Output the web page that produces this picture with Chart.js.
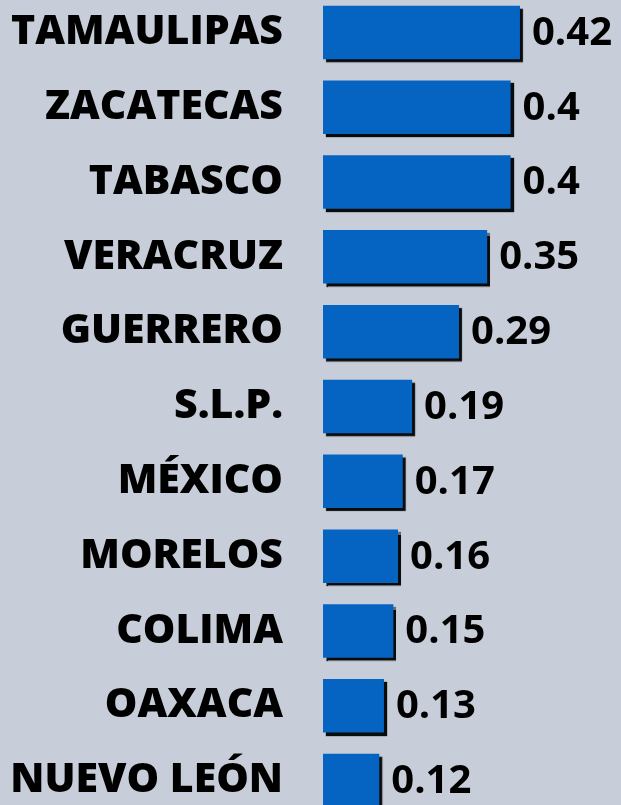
<!DOCTYPE html>
<html>
<head>
<meta charset="utf-8">
<script src="https://cdn.jsdelivr.net/npm/chart.js@4/dist/chart.umd.min.js"></script>
<style>
html,body{margin:0;padding:0;background:#C8CED9;}
#wrap{position:relative;width:621px;height:805px;overflow:hidden;background:#C8CED9;}
#c{position:absolute;left:0;top:-5px;}
</style>
</head>
<body>
<div id="wrap"><canvas id="c" width="621" height="828"></canvas></div>
<script>
const categories = ["TAMAULIPAS","ZACATECAS","TABASCO","VERACRUZ","GUERRERO","S.L.P.","MÉXICO","MORELOS","COLIMA","OAXACA","NUEVO LEÓN"];
const values = [0.42,0.4,0.4,0.35,0.29,0.19,0.17,0.16,0.15,0.13,0.12];

const barColor = "#0563C1";
const labelFont = {family:"'Open Sans', sans-serif", size:41, weight:"800"};
const valueFont = "bold 40px 'Open Sans', sans-serif";

const shadowPlugin = {
  id:"shadow",
  beforeDatasetsDraw(chart){
    const ctx = chart.ctx;
    ctx.save();
    ctx.shadowColor = "rgba(0,0,0,0.95)";
    ctx.shadowOffsetX = 3;
    ctx.shadowOffsetY = 3;
    ctx.shadowBlur = 1;
  },
  afterDatasetsDraw(chart){
    const ctx = chart.ctx;
    ctx.restore();
    ctx.save();
    ctx.font = valueFont;
    ctx.fillStyle = "#000";
    ctx.textAlign = "left";
    ctx.textBaseline = "middle";
    const meta = chart.getDatasetMeta(0);
    meta.data.forEach((el,i)=>{
      ctx.fillText(String(values[i]), el.x + 12, el.y + 1);
    });
    ctx.restore();
  }
};

new Chart(document.getElementById("c"), {
  type:"bar",
  data:{
    labels:categories,
    datasets:[{
      data:values,
      backgroundColor:barColor,
      borderWidth:0,
      barPercentage:0.715,
      categoryPercentage:1
    }]
  },
  options:{
    indexAxis:"y",
    responsive:false,
    animation:false,
    layout:{padding:{top:0,bottom:5,right:16.6,left:0}},
    plugins:{legend:{display:false},tooltip:{enabled:false}},
    scales:{
      x:{display:false,min:0,max:0.6},
      y:{
        grid:{display:false,drawTicks:false},
        border:{display:false},
        ticks:{color:"#000",font:labelFont,padding:40,autoSkip:false},
        afterFit(scale){
          scale.width = 323;
          scale.paddingTop = 0;
          scale.paddingBottom = 0;
        }
      }
    }
  },
  plugins:[shadowPlugin]
});
</script>
</body>
</html>
